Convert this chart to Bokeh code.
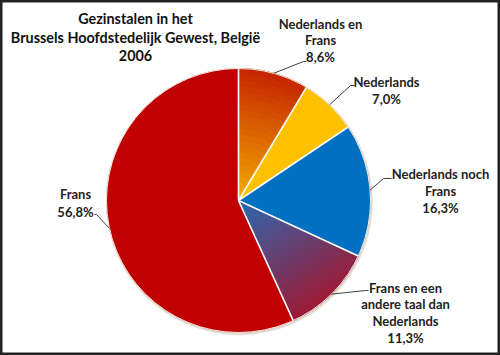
import numpy as np
from bokeh.plotting import figure
from bokeh.core.properties import value
from bokeh.embed import file_html
from bokeh.resources import INLINE

# ---------------- data ----------------
categories = ["Nederlands en Frans", "Nederlands", "Nederlands noch Frans",
              "Frans en een andere taal dan Nederlands", "Frans"]
shares = [8.6, 7.0, 16.3, 11.3, 56.8]
label_lines = [["Nederlands en", "Frans"],
               ["Nederlands"],
               ["Nederlands noch", "Frans"],
               ["Frans en een", "andere taal dan", "Nederlands"],
               ["Frans"]]
title_lines = ["Gezinstalen in het", "Brussels Hoofdstedelijk Gewest, België", "2006"]

# ---------------- style / layout ----------------
W, H = 500, 355
CX, CY, R = 238, 200, 132          # pie centre/radius in pixel coords (y down)
solid_colors = [None, "#FFC000", "#0070C0", None, "#C00000"]
gradients = {0: ("#F4AE00", "#C42400", (0.25, -1.0)),
             3: ("#2A6AB4", "#9E1A34", (0.55, 0.85))}
# label block: (center x, first-line y, line spacing), leader elbow and end
label_pos = [(320, 23, 16.5), (386, 81, 17), (440, 173, 17), (405, 287, 16.7), (75, 193, 18)]
leader_elbow = [(303, 61), (350, 85), (383, 178), (365, 290), (96, 214)]
leader_end = [(306, 61), (354, 85), (391, 178), (368, 290), (94, 214)]


def fy(y):
    return H - y


p = figure(width=W, height=H, x_range=(0, W), y_range=(0, H), output_backend="svg",
           toolbar_location=None, min_border=0, background_fill_color="white",
           border_fill_color="white")
p.axis.visible = False
p.grid.visible = False
p.outline_line_color = "#222222"
p.outline_line_width = 4

# subtle shadow / rim
p.circle(x=[CX + 1], y=[fy(CY + 1.5)], radius=R + 1.2, fill_color="#E6DCD2",
         line_color=None)

fractions = np.array(shares) / sum(shares)
cum = np.concatenate([[0], np.cumsum(fractions)])
starts = np.pi / 2 - 2 * np.pi * cum[:-1]
ends = np.pi / 2 - 2 * np.pi * cum[1:]


def hex2rgb(h):
    h = h.lstrip("#")
    return np.array([int(h[i:i + 2], 16) for i in (0, 2, 4)], dtype=float)


def rgb2hex(c):
    return "#%02x%02x%02x" % tuple(int(round(v)) for v in np.clip(c, 0, 255))


# solid slices (gradient slices get a mid-colour base underneath)
sx, sy, ss, se, sc = [], [], [], [], []
for i, c in enumerate(solid_colors):
    if c is None:
        c0, c1, _ = gradients[i]
        c = rgb2hex(0.5 * (hex2rgb(c0) + hex2rgb(c1)))
    sx.append(CX); sy.append(fy(CY)); ss.append(starts[i]); se.append(ends[i]); sc.append(c)
p.wedge(x=sx, y=sy, radius=R, start_angle=ss, end_angle=se, direction="clock",
        fill_color=sc, line_color=sc, line_width=0.5)

# gradient slices drawn as a grid of small annular wedges
gx, gy, gi, go, gs, ge, gc = [], [], [], [], [], [], []
NA, NR = 20, 22
for i, (c0, c1, d) in gradients.items():
    c0 = hex2rgb(c0); c1 = hex2rgb(c1)
    d = np.array(d) / np.hypot(*d)
    angs = np.linspace(starts[i], ends[i], 60)
    pts = [(0.0, 0.0)] + [(R * np.cos(a), -R * np.sin(a)) for a in angs]
    proj = [px * d[0] + py * d[1] for px, py in pts]
    pmin, pmax = min(proj), max(proj)
    a_edges = np.linspace(starts[i], ends[i], NA + 1)
    r_edges = np.linspace(0, R, NR + 1)
    for a in range(NA):
        for r in range(NR):
            am = 0.5 * (a_edges[a] + a_edges[a + 1])
            rm = 0.5 * (r_edges[r] + r_edges[r + 1])
            px, py = rm * np.cos(am), -rm * np.sin(am)
            t = ((px * d[0] + py * d[1]) - pmin) / (pmax - pmin)
            col = rgb2hex(c0 + (c1 - c0) * t)
            gx.append(CX); gy.append(fy(CY)); gi.append(r_edges[r]); go.append(r_edges[r + 1])
            gs.append(a_edges[a]); ge.append(a_edges[a + 1]); gc.append(col)
p.annular_wedge(x=gx, y=gy, inner_radius=gi, outer_radius=go, start_angle=gs,
                end_angle=ge, direction="clock", fill_color=gc, line_color=gc,
                line_width=0.8)

# white separators
sep_x, sep_y = [], []
for a in starts:
    sep_x.append([CX, CX + R * np.cos(a)])
    sep_y.append([fy(CY), fy(CY) + R * np.sin(a)])
p.multi_line(xs=sep_x, ys=sep_y, line_color="white", line_width=1.6)
p.circle(x=[CX], y=[fy(CY)], radius=R, fill_color=None, line_color="#F4ECE4",
         line_width=1)

# leader lines
lx, ly = [], []
mids = 0.5 * (starts + ends)
for i in range(len(shares)):
    x0 = CX + R * np.cos(mids[i]); y0 = fy(CY) + R * np.sin(mids[i])
    lx.append([x0, leader_elbow[i][0], leader_end[i][0]])
    ly.append([y0, fy(leader_elbow[i][1]), fy(leader_end[i][1])])
p.multi_line(xs=lx, ys=ly, line_color="#404040", line_width=1)

# labels
tx, ty, tt = [], [], []
for i, v in enumerate(shares):
    lines = label_lines[i] + [("%.1f" % v).replace(".", ",") + "%"]
    cx, y0, dy = label_pos[i]
    for k, s in enumerate(lines):
        tx.append(cx); ty.append(fy(y0 + k * dy)); tt.append(s)
p.text(x=tx, y=ty, text=tt, text_align="center", text_baseline="middle",
       text_font=value("Lato"), text_font_style="bold", text_font_size="13px",
       text_color="#222222")

# title
ttx = [135] * len(title_lines)
tty = [fy(18), fy(37), fy(55)]
p.text(x=ttx, y=tty, text=title_lines, text_align="center", text_baseline="middle",
       text_font=value("Lato"), text_font_style="bold", text_font_size="14.4px",
       text_color="#111111")

open("out.html", "w").write(file_html(p, INLINE))
